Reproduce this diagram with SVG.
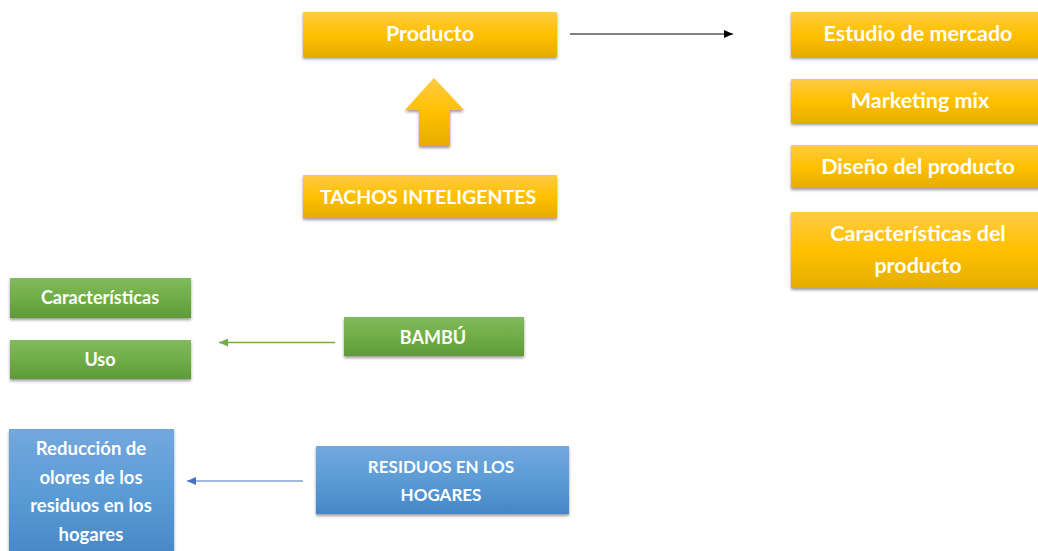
<svg xmlns="http://www.w3.org/2000/svg" width="1038" height="551" viewBox="0 0 1038 551">
<defs>
<linearGradient id="gy" x1="0" y1="0" x2="0" y2="1"><stop offset="0" stop-color="#FFCB45"/><stop offset="0.5" stop-color="#FFC000"/><stop offset="1" stop-color="#E5AD06"/></linearGradient>
<linearGradient id="gg" x1="0" y1="0" x2="0" y2="1"><stop offset="0" stop-color="#81BA5E"/><stop offset="0.5" stop-color="#70AD47"/><stop offset="1" stop-color="#5E9A37"/></linearGradient>
<linearGradient id="gb" x1="0" y1="0" x2="0" y2="1"><stop offset="0" stop-color="#72A8DE"/><stop offset="0.5" stop-color="#5B9BD5"/><stop offset="1" stop-color="#4686C6"/></linearGradient>
<filter id="sh" x="-10%" y="-20%" width="120%" height="150%"><feDropShadow dx="0" dy="2" stdDeviation="1.5" flood-color="#000" flood-opacity="0.4"/></filter>
<marker id="ak" markerWidth="10" markerHeight="8" refX="9" refY="4" orient="auto" markerUnits="userSpaceOnUse"><path d="M0,0 L9,4 L0,8 Z" fill="#000"/></marker>
<marker id="ag" markerWidth="10" markerHeight="8" refX="9" refY="4" orient="auto" markerUnits="userSpaceOnUse"><path d="M0,0 L9,4 L0,8 Z" fill="#70AD47"/></marker>
<marker id="ab" markerWidth="10" markerHeight="8" refX="9" refY="4" orient="auto" markerUnits="userSpaceOnUse"><path d="M0,0 L9,4 L0,8 Z" fill="#4472C4"/></marker>
</defs>
<style>
.y{fill:url(#gy);filter:url(#sh)}
.g{fill:url(#gg);filter:url(#sh)}
.b{fill:url(#gb);filter:url(#sh)}
text{font-family:Lato,"Open Sans",sans-serif;font-weight:bold;fill:#fff;text-anchor:middle}
.l{font-size:21.5px}
.c{font-size:19.5px}
.s{font-size:18px}
.m{font-size:18.5px}
.mc{font-size:17px}
</style>
<g id="connectors">
<line x1="570" y1="34" x2="733" y2="34" stroke="#000" stroke-width="1" marker-end="url(#ak)"/>
<line x1="335" y1="342.5" x2="219" y2="342.5" stroke="#70AD47" stroke-width="1.5" marker-end="url(#ag)"/>
<line x1="303" y1="481" x2="187" y2="481" stroke="#4472C4" stroke-width="1" marker-end="url(#ab)"/>
<path id="up-arrow" class="y" d="M434,78 L464,110 L450,110 L450,146 L419,146 L419,110 L405,110 Z"/>
</g>
<g id="producto"><rect class="y" x="303" y="12" width="254" height="45"/><text class="l" x="430" y="41">Producto</text></g>
<g id="tachos"><rect class="y" x="303" y="175" width="254" height="43"/><text class="c" x="428" y="204">TACHOS INTELIGENTES</text></g>
<g id="estudio"><rect class="y" x="791" y="12" width="250" height="45"/><text class="l" x="918" y="41">Estudio de mercado</text></g>
<g id="marketing"><rect class="y" x="791" y="79" width="250" height="44"/><text class="l" x="920" y="108">Marketing mix</text></g>
<g id="diseno"><rect class="y" x="791" y="145" width="250" height="43"/><text class="l" x="918" y="174">Diseño del producto</text></g>
<g id="caracteristicas-producto"><rect class="y" x="791" y="212" width="250" height="76"/><text class="l" x="918" y="241">Características del</text><text class="l" x="918" y="273">producto</text></g>
<g id="caracteristicas"><rect class="g" x="10" y="278" width="181" height="40"/><text class="s" x="100" y="304">Características</text></g>
<g id="uso"><rect class="g" x="10" y="340" width="181" height="39"/><text class="s" x="100" y="366">Uso</text></g>
<g id="bambu"><rect class="g" x="344" y="317" width="180" height="39"/><text class="s" x="433" y="344">BAMBÚ</text></g>
<g id="reduccion"><rect class="b" x="9" y="429" width="165" height="130"/><text class="m" x="91" y="455">Reducción de</text><text class="m" x="91" y="484">olores de los</text><text class="m" x="91" y="512">residuos en los</text><text class="m" x="91" y="541">hogares</text></g>
<g id="residuos"><rect class="b" x="316" y="446" width="253" height="68"/><text class="mc" x="441" y="473">RESIDUOS EN LOS</text><text class="mc" x="441" y="501">HOGARES</text></g>
</svg>
